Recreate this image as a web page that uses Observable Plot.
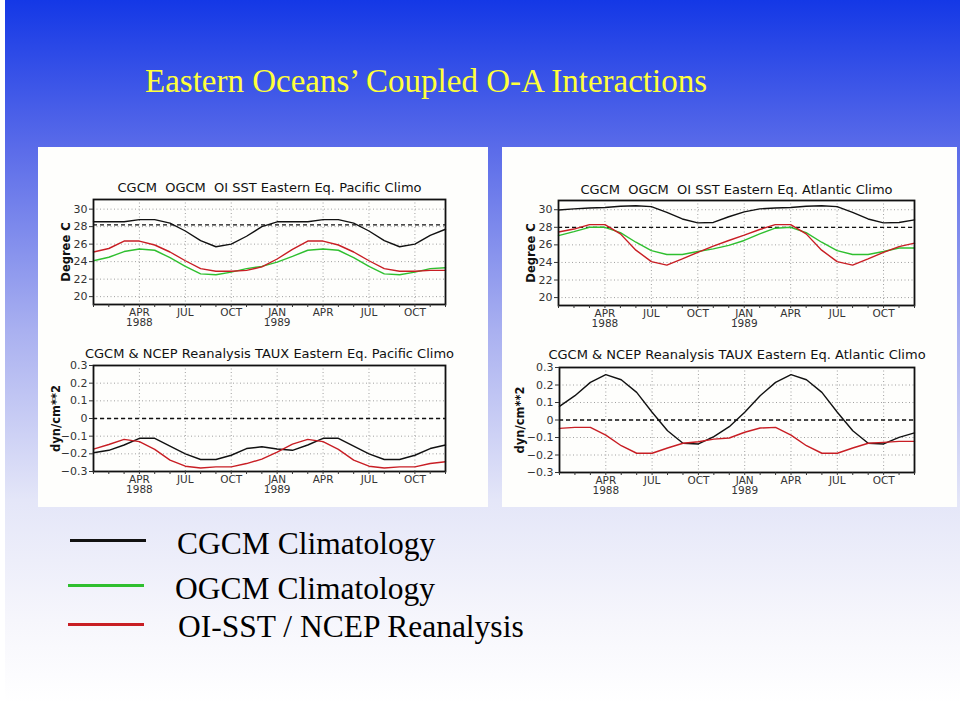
<!DOCTYPE html>
<html>
<head>
<meta charset="utf-8">
<script src="https://cdn.jsdelivr.net/npm/d3@7"></script>
<script src="https://cdn.jsdelivr.net/npm/@observablehq/plot@0.6"></script>
<style>
  html, body { margin: 0; padding: 0; }
  body { width: 960px; height: 703px; position: relative; overflow: hidden; background: #fff; }
  #bg { position: absolute; left: 5px; top: 0; width: 955px; height: 703px;
        background: linear-gradient(to bottom, #1438e6 0px, #5b6ce9 150px, #a9b0f0 330px, #e4e6f8 500px, #f6f6fc 620px, #ffffff 703px); }
  .panel { position: absolute; background: #fefefc; }
  .chart { position: absolute; }
  #title { position: absolute; left: 145px; top: 65px; font-family: "Liberation Serif", "Times New Roman", serif;
           font-size: 33px; line-height: 1; color: #ffff3a; white-space: nowrap; }
  .lg-line { position: absolute; height: 3px; }
  .lg-text { position: absolute; font-family: "Liberation Serif", "Times New Roman", serif; font-size: 31.5px;
             line-height: 1; color: #000; white-space: nowrap; }
</style>
</head>
<body>
<div id="bg"></div>
<div id="title">Eastern Oceans’ Coupled O-A Interactions</div>
<div class="panel" style="left:38px;top:147px;width:450px;height:360px;"></div>
<div class="panel" style="left:502px;top:147px;width:455px;height:360px;"></div>
<div class="chart" id="c1" style="left:40px;top:170px;"></div>
<div class="chart" id="c2" style="left:502px;top:170px;"></div>
<div class="chart" id="c3" style="left:40px;top:340px;"></div>
<div class="chart" id="c4" style="left:502px;top:340px;"></div>
<div id="legend"></div>
<script>
// ---------- data ----------
const monthIndex = [0,1,2,3,4,5,6,7,8,9,10,11,12,13,14,15,16,17,18,19,20,21,22,23];
const xTickMonths = [3,6,9,12,15,18,21];
const xTickLabels = ["APR\n1988","JUL","OCT","JAN\n1989","APR","JUL","OCT"];

const sstTicks = [20,22,24,26,28,30];
const tauxTicks = [-0.3,-0.2,-0.1,0,0.1,0.2,0.3];

const pacSstCgcm = [28.55,28.55,28.55,28.8,28.8,28.4,27.5,26.4,25.7,26.0,26.9,28.0, 28.55,28.55,28.55,28.8,28.8,28.4,27.5,26.4,25.7,26.0,27.0,27.7];
const pacSstOgcm = [24.1,24.5,25.15,25.45,25.3,24.45,23.45,22.6,22.5,22.8,23.2,23.45, 23.95,24.6,25.3,25.45,25.3,24.45,23.45,22.6,22.5,22.8,23.2,23.3];
const pacSstObs  = [25.1,25.5,26.35,26.35,25.9,25.1,24.1,23.2,22.9,22.9,23.0,23.4, 24.3,25.4,26.35,26.35,25.9,25.1,24.1,23.2,22.9,22.9,23.0,23.0];

const atlSstCgcm = [29.97,30.1,30.2,30.25,30.4,30.45,30.35,29.7,28.95,28.5,28.55,29.2, 29.75,30.1,30.2,30.25,30.4,30.45,30.35,29.7,28.95,28.5,28.55,28.85];
const atlSstOgcm = [27.05,27.5,28.0,28.0,27.4,26.3,25.35,24.9,24.9,25.25,25.55,25.95, 26.5,27.25,27.9,28.0,27.4,26.3,25.35,24.9,24.9,25.25,25.65,25.65];
const atlSstObs  = [27.47,27.8,28.3,28.3,27.25,25.4,24.1,23.7,24.4,25.15,25.85,26.5, 27.1,27.75,28.3,28.3,27.25,25.4,24.1,23.7,24.4,25.15,25.8,26.2];

const pacTauxCgcm = [-0.194,-0.18,-0.15,-0.112,-0.112,-0.156,-0.2,-0.232,-0.232,-0.208,-0.17,-0.16, -0.173,-0.18,-0.15,-0.112,-0.112,-0.156,-0.2,-0.232,-0.232,-0.208,-0.17,-0.15];
const pacTauxObs  = [-0.173,-0.147,-0.118,-0.131,-0.175,-0.236,-0.27,-0.28,-0.274,-0.274,-0.255,-0.23, -0.19,-0.145,-0.118,-0.131,-0.175,-0.236,-0.27,-0.28,-0.274,-0.274,-0.255,-0.245];

const atlTauxCgcm = [0.078,0.139,0.215,0.259,0.23,0.158,0.044,-0.061,-0.133,-0.137,-0.095,-0.038, 0.044,0.139,0.215,0.259,0.23,0.158,0.044,-0.061,-0.133,-0.137,-0.099,-0.074];
const atlTauxObs  = [-0.048,-0.042,-0.042,-0.086,-0.147,-0.19,-0.19,-0.16,-0.133,-0.124,-0.109,-0.103, -0.07,-0.046,-0.042,-0.086,-0.147,-0.19,-0.19,-0.16,-0.133,-0.128,-0.122,-0.122];

const legendLabels = ["CGCM Climatology","OGCM Climatology","OI-SST / NCEP Reanalysis"];
const seriesColors = {cgcm: "#111111", ogcm: "#2fbf2f", obs: "#c81e24"};

// ---------- chart builder ----------
const tickLabelMap = new Map(xTickMonths.map((m, i) => [m, xTickLabels[i]]));
const gridStyle = {stroke: "#a0a0a0", strokeOpacity: 1, strokeDasharray: "1,2.5", strokeWidth: 1};

function chart(cfg) {
  const lines = cfg.series.map(s =>
    Plot.line(monthIndex.map((m, i) => ({m, v: s.values[i]})),
      {x: "m", y: "v", stroke: s.color, strokeWidth: 1.4})
  );
  return Plot.plot({
    width: cfg.width, height: 165,
    marginLeft: cfg.ml, marginRight: cfg.mr, marginTop: cfg.mt, marginBottom: cfg.mb,
    style: {fontFamily: "DejaVu Sans, sans-serif", fontSize: "10px", background: "transparent", color: "#222", overflow: "visible"},
    x: {domain: [0, 23], axis: null},
    y: {domain: cfg.yDomain, axis: null},
    marks: [
      Plot.gridX(xTickMonths, gridStyle),
      Plot.gridY(cfg.yTicks, gridStyle),
      Plot.ruleY([cfg.ref], {stroke: "#111", strokeDasharray: "4,3", strokeWidth: 1.3}),
      ...lines,
      Plot.frame({stroke: "#111", strokeWidth: 1.8}),
      Plot.axisX(monthIndex, {label: null, tickSize: 3, tickFormat: () => "", stroke: "#333"}),
      Plot.axisX(xTickMonths, {label: null, tickSize: 0, tickPadding: 4, tickFormat: d => tickLabelMap.get(d), fontSize: 10.5, fill: "#333", lineHeight: 1.0}),
      Plot.axisY(cfg.yTicks, {label: null, tickSize: 4, tickPadding: 2, fontSize: 11, fill: "#333", stroke: "#333", tickFormat: cfg.yFormat}),
      Plot.text([cfg.title], {text: d => d, frameAnchor: "top", lineAnchor: "middle", dy: cfg.titleDy, fontSize: 13, fill: "#111"}),
      Plot.text([cfg.yLabel], {text: d => d, frameAnchor: "left", textAnchor: "middle", lineAnchor: "middle", dx: cfg.ylDx, rotate: -90, fontSize: 11.5, fontWeight: "bold", fill: "#111"})
    ]
  });
}

const sstFmt = d => String(d);
const tauxFmt = d => d === 0 ? "0" : d3.format(".1f")(d).replace("-", "\u2212");

document.getElementById("c1").appendChild(chart({
  width: 448, ml: 53, mr: 43, mt: 29, mb: 31,
  yDomain: [19.1, 31.1], yTicks: sstTicks, yFormat: sstFmt, ref: 28.2,
  title: "CGCM  OGCM  OI SST Eastern Eq. Pacific Climo", titleDy: -12,
  yLabel: "Degree C", ylDx: -27,
  series: [{values: pacSstCgcm, color: seriesColors.cgcm}, {values: pacSstOgcm, color: seriesColors.ogcm}, {values: pacSstObs, color: seriesColors.obs}]
}));
document.getElementById("c2").appendChild(chart({
  width: 454, ml: 56, mr: 42, mt: 30, mb: 30,
  yDomain: [19.1, 31.05], yTicks: sstTicks, yFormat: sstFmt, ref: 28.0,
  title: "CGCM  OGCM  OI SST Eastern Eq. Atlantic Climo", titleDy: -11,
  yLabel: "Degree C", ylDx: -27,
  series: [{values: atlSstCgcm, color: seriesColors.cgcm}, {values: atlSstOgcm, color: seriesColors.ogcm}, {values: atlSstObs, color: seriesColors.obs}]
}));
document.getElementById("c3").appendChild(chart({
  width: 448, ml: 53, mr: 43, mt: 25, mb: 34,
  yDomain: [-0.3, 0.3], yTicks: tauxTicks, yFormat: tauxFmt, ref: 0,
  title: "CGCM & NCEP Reanalysis TAUX Eastern Eq. Pacific Climo", titleDy: -12,
  yLabel: "dyn/cm**2", ylDx: -37,
  series: [{values: pacTauxCgcm, color: seriesColors.cgcm}, {values: pacTauxObs, color: seriesColors.obs}]
}));
document.getElementById("c4").appendChild(chart({
  width: 454, ml: 57, mr: 42, mt: 27, mb: 33,
  yDomain: [-0.3, 0.3], yTicks: tauxTicks, yFormat: tauxFmt, ref: 0,
  title: "CGCM & NCEP Reanalysis TAUX Eastern Eq. Atlantic Climo", titleDy: -13,
  yLabel: "dyn/cm**2", ylDx: -39,
  series: [{values: atlTauxCgcm, color: seriesColors.cgcm}, {values: atlTauxObs, color: seriesColors.obs}]
}));

// ---------- legend ----------
const legend = document.getElementById("legend");
const legendColors = [seriesColors.cgcm, seriesColors.ogcm, seriesColors.obs];
const legendLinePos = [[70, 539], [68, 584], [68, 623]];
const legendTextPos = [[177, 528], [175, 573], [178, 611]];
legendLabels.forEach((lab, i) => {
  const ln = document.createElement("div");
  ln.className = "lg-line";
  ln.style.left = legendLinePos[i][0] + "px";
  ln.style.top = legendLinePos[i][1] + "px";
  ln.style.width = "76px";
  ln.style.background = legendColors[i];
  legend.appendChild(ln);
  const tx = document.createElement("div");
  tx.className = "lg-text";
  tx.style.left = legendTextPos[i][0] + "px";
  tx.style.top = legendTextPos[i][1] + "px";
  tx.textContent = lab;
  legend.appendChild(tx);
});
</script>
</body>
</html>
